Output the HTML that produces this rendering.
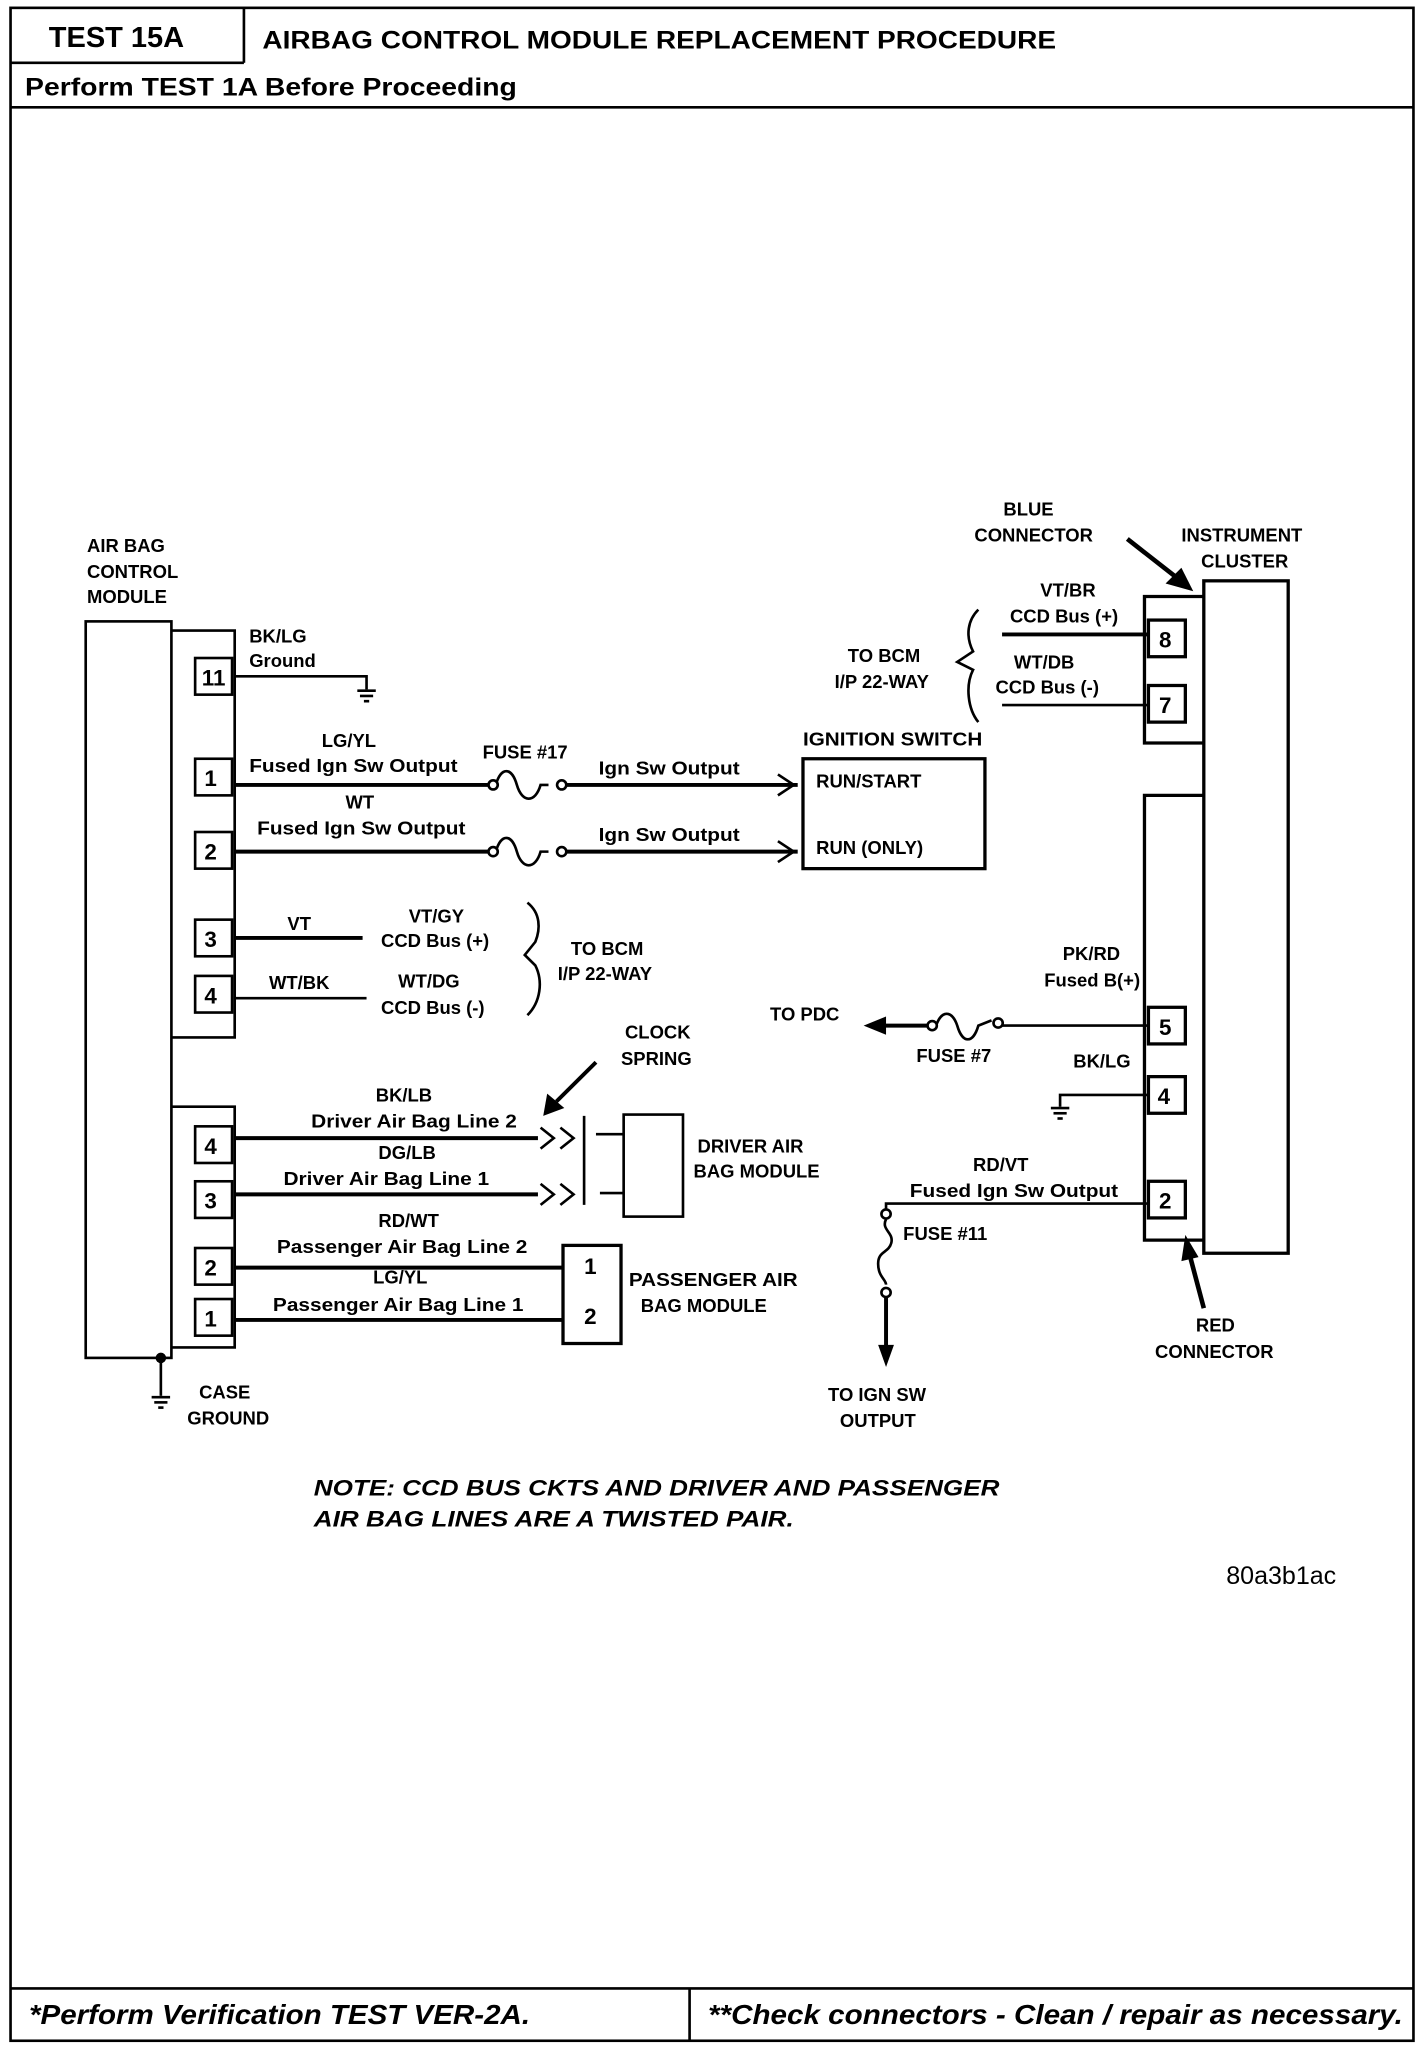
<!DOCTYPE html>
<html><head><meta charset="utf-8"><style>
html,body{margin:0;padding:0;background:#fff;}
svg{display:block;}
text{font-family:"Liberation Sans",sans-serif;font-weight:bold;fill:#000;}
.s{font-size:14px;}
</style></head><body>
<svg width="1424" height="2046" viewBox="0 0 1080 1564" preserveAspectRatio="none" xmlns="http://www.w3.org/2000/svg">
<g fill="none" stroke="#000" stroke-width="2">
<rect x="8" y="6" width="1064" height="1554"/>
<line x1="185" y1="6" x2="185" y2="48"/>
<line x1="8" y1="48" x2="185" y2="48"/>
<line x1="8" y1="82" x2="1072" y2="82"/>
<line x1="8" y1="1520" x2="1072" y2="1520"/>
<line x1="523" y1="1520" x2="523" y2="1560"/>
</g>
<text x="37" y="36" style="font-size:22px">TEST 15A</text>
<text x="199" y="37" style="font-size:19px" textLength="602" lengthAdjust="spacingAndGlyphs">AIRBAG CONTROL MODULE REPLACEMENT PROCEDURE</text>
<text x="19" y="73" style="font-size:19px" textLength="373" lengthAdjust="spacingAndGlyphs">Perform TEST 1A Before Proceeding</text>
<text x="22" y="1547" style="font-size:21px;font-style:italic" textLength="380" lengthAdjust="spacingAndGlyphs">*Perform Verification TEST VER-2A.</text>
<text x="537" y="1547" style="font-size:21px;font-style:italic" textLength="527" lengthAdjust="spacingAndGlyphs">**Check connectors - Clean / repair as necessary.</text>

<g fill="none" stroke="#000" stroke-width="2">
<rect x="65" y="475" width="65" height="563"/>
<polyline points="130,482 178,482 178,793 130,793"/>
<polyline points="130,846 178,846 178,1030 130,1030"/>
<rect x="148" y="503" width="28" height="28"/>
<rect x="148" y="580" width="28" height="28"/>
<rect x="148" y="636" width="28" height="28"/>
<rect x="148" y="703" width="28" height="28"/>
<rect x="148" y="746" width="28" height="28"/>
<rect x="148" y="861" width="28" height="28"/>
<rect x="148" y="903" width="28" height="28"/>
<rect x="148" y="954" width="28" height="28"/>
<rect x="148" y="993" width="28" height="28"/>
</g>
<g style="font-size:17px">
<text x="153" y="524">11</text>
<text x="155" y="601">1</text>
<text x="155" y="657">2</text>
<text x="155" y="724">3</text>
<text x="155" y="767">4</text>
<text x="155" y="882">4</text>
<text x="155" y="924">3</text>
<text x="155" y="975">2</text>
<text x="155" y="1014">1</text>
</g>
<text x="66" y="422" class="s">AIR BAG</text>
<text x="66" y="442" class="s">CONTROL</text>
<text x="66" y="461" class="s">MODULE</text>

<g fill="none" stroke="#000" stroke-width="3">
<polyline points="178,517 278,517 278,527" stroke-width="2"/>
<line x1="271" y1="528" x2="285" y2="528" stroke-width="2"/>
<line x1="273" y1="532" x2="283" y2="532" stroke-width="2"/>
<line x1="276" y1="536" x2="280" y2="536" stroke-width="2"/>
<line x1="178" y1="600" x2="370" y2="600"/>
<line x1="430" y1="600" x2="605" y2="600"/>
<path d="M376,600 c4,-14 12,-14 16,0 c4,14 14,14 18,0 l6,0" stroke-width="2"/>
<line x1="178" y1="651" x2="370" y2="651"/>
<line x1="430" y1="651" x2="605" y2="651"/>
<path d="M376,651 c4,-14 12,-14 16,0 c4,14 14,14 18,0 l6,0" stroke-width="2"/>
</g>
<g fill="#fff" stroke="#000" stroke-width="2">
<circle cx="374" cy="600" r="3.5"/><circle cx="426" cy="600" r="3.5"/>
<circle cx="374" cy="651" r="3.5"/><circle cx="426" cy="651" r="3.5"/>
</g>
<g fill="none" stroke="#000" stroke-width="2">
<polyline points="590,592 602,600 590,608"/>
<polyline points="590,643 602,651 590,659"/>
<rect x="609" y="580" width="138" height="84" stroke-width="2.5"/>
<line x1="178" y1="717" x2="275" y2="717" stroke-width="3"/>
<line x1="178" y1="763" x2="278" y2="763" stroke-width="2"/>
<path d="M400,690 c10,8 10,20 6,30 l-8,10 8,8 c6,12 4,28 -6,38"/>
<line x1="178" y1="870" x2="408" y2="870" stroke-width="3"/>
<line x1="178" y1="913" x2="408" y2="913" stroke-width="3"/>
<polyline points="410,862 420,870 410,878"/><polyline points="425,862 435,870 425,878"/>
<polyline points="410,905 420,913 410,921"/><polyline points="425,905 435,913 425,921"/>
<line x1="443" y1="853" x2="443" y2="921"/>
<line x1="452" y1="867" x2="473" y2="867"/>
<line x1="455" y1="912" x2="473" y2="912"/>
<rect x="473" y="852" width="45" height="78"/>
<line x1="178" y1="969" x2="427" y2="969" stroke-width="3"/>
<line x1="178" y1="1009" x2="427" y2="1009" stroke-width="3"/>
<rect x="427" y="952" width="44" height="75" stroke-width="2.5"/>
<line x1="122" y1="1038" x2="122" y2="1067"/>
<line x1="115" y1="1068" x2="129" y2="1068"/>
<line x1="117" y1="1072" x2="127" y2="1072"/>
<line x1="120" y1="1076" x2="124" y2="1076"/>
<line x1="452" y1="812" x2="422" y2="842" stroke-width="3"/>
</g>
<circle cx="122" cy="1038" r="4" fill="#000"/>
<polygon points="412,853 415,836 428,847" fill="#000"/>

<g class="s">
<text x="189" y="491">BK/LG</text>
<text x="189" y="510">Ground</text>
<text x="244" y="571">LG/YL</text>
<text x="189" y="590" textLength="158" lengthAdjust="spacingAndGlyphs">Fused Ign Sw Output</text>
<text x="366" y="580">FUSE #17</text>
<text x="454" y="592" textLength="107" lengthAdjust="spacingAndGlyphs">Ign Sw Output</text>
<text x="262" y="618">WT</text>
<text x="195" y="638" textLength="158" lengthAdjust="spacingAndGlyphs">Fused Ign Sw Output</text>
<text x="454" y="643" textLength="107" lengthAdjust="spacingAndGlyphs">Ign Sw Output</text>
<text x="609" y="570" textLength="136" lengthAdjust="spacingAndGlyphs">IGNITION SWITCH</text>
<text x="619" y="602">RUN/START</text>
<text x="619" y="653">RUN (ONLY)</text>
<text x="218" y="711">VT</text>
<text x="204" y="756">WT/BK</text>
<text x="310" y="705">VT/GY</text>
<text x="289" y="724">CCD Bus (+)</text>
<text x="302" y="755">WT/DG</text>
<text x="289" y="775">CCD Bus (-)</text>
<text x="433" y="730">TO BCM</text>
<text x="423" y="749">I/P 22-WAY</text>
<text x="474" y="794">CLOCK</text>
<text x="471" y="814">SPRING</text>
<text x="285" y="842">BK/LB</text>
<text x="236" y="862" textLength="156" lengthAdjust="spacingAndGlyphs">Driver Air Bag Line 2</text>
<text x="287" y="886">DG/LB</text>
<text x="215" y="906" textLength="156" lengthAdjust="spacingAndGlyphs">Driver Air Bag Line 1</text>
<text x="529" y="881">DRIVER AIR</text>
<text x="526" y="900">BAG MODULE</text>
<text x="287" y="938">RD/WT</text>
<text x="210" y="958" textLength="190" lengthAdjust="spacingAndGlyphs">Passenger Air Bag Line 2</text>
<text x="283" y="981">LG/YL</text>
<text x="207" y="1002" textLength="190" lengthAdjust="spacingAndGlyphs">Passenger Air Bag Line 1</text>
<text x="477" y="983" textLength="128" lengthAdjust="spacingAndGlyphs">PASSENGER AIR</text>
<text x="486" y="1003">BAG MODULE</text>
<text x="151" y="1069">CASE</text>
<text x="142" y="1089">GROUND</text>
</g>
<text x="443" y="974" style="font-size:17px">1</text>
<text x="443" y="1012" style="font-size:17px">2</text>

<g fill="none" stroke="#000" stroke-width="2.5">
<rect x="913" y="444" width="64" height="514"/>
<polyline points="913,456 868,456 868,568 913,568"/>
<polyline points="913,608 868,608 868,948 913,948"/>
<rect x="871" y="474" width="28" height="28"/>
<rect x="871" y="524" width="28" height="28"/>
<rect x="871" y="770" width="28" height="28"/>
<rect x="871" y="823" width="28" height="28"/>
<rect x="871" y="903" width="28" height="28"/>
<line x1="760" y1="485" x2="871" y2="485" stroke-width="3"/>
<line x1="760" y1="539" x2="871" y2="539" stroke-width="2"/>
<path d="M742,466 c-8,8 -10,20 -4,32 l-12,8 12,6 c-6,12 -4,30 4,40" stroke-width="2"/>
<line x1="760" y1="784" x2="871" y2="784" stroke-width="2"/>
<line x1="660" y1="784" x2="704" y2="784" stroke-width="3"/>
<path d="M710,784 c4,-12 12,-12 16,0 c4,14 12,14 16,0 l10,-4" stroke-width="2"/>
<polyline points="871,837 804,837 804,846" stroke-width="2"/>
<line x1="797" y1="847" x2="811" y2="847" stroke-width="2"/>
<line x1="799" y1="851" x2="809" y2="851" stroke-width="2"/>
<line x1="802" y1="855" x2="806" y2="855" stroke-width="2"/>
<polyline points="871,920 672,920 672,925" stroke-width="2"/>
<path d="M672,932 c-4,8 6,10 4,18 c-2,8 -10,6 -10,16 c0,10 6,12 6,16" stroke-width="2"/>
<line x1="672" y1="992" x2="672" y2="1030" stroke-width="3"/>
<line x1="855" y1="412" x2="893" y2="442" stroke-width="3.5"/>
<line x1="913" y1="1000" x2="903" y2="962" stroke-width="3.5"/>
</g>
<polygon points="905,452 884,446 896,434" fill="#000"/>
<polygon points="899,944 896,964 909,961" fill="#000"/>
<polygon points="655,784 672,777 672,791" fill="#000"/>
<polygon points="672,1045 666,1028 678,1028" fill="#000"/>
<g fill="#fff" stroke="#000" stroke-width="2">
<circle cx="707" cy="784" r="3.5"/><circle cx="757" cy="782" r="3.5"/>
<circle cx="672" cy="928" r="3.5"/><circle cx="672" cy="988" r="3.5"/>
</g>
<g style="font-size:17px">
<text x="879" y="495">8</text>
<text x="879" y="545">7</text>
<text x="879" y="791">5</text>
<text x="878" y="844">4</text>
<text x="879" y="924">2</text>
</g>
<g class="s">
<text x="761" y="394">BLUE</text>
<text x="739" y="414">CONNECTOR</text>
<text x="896" y="414">INSTRUMENT</text>
<text x="911" y="434">CLUSTER</text>
<text x="789" y="456">VT/BR</text>
<text x="766" y="476">CCD Bus (+)</text>
<text x="769" y="511">WT/DB</text>
<text x="755" y="530">CCD Bus (-)</text>
<text x="643" y="506">TO BCM</text>
<text x="633" y="526">I/P 22-WAY</text>
<text x="806" y="734">PK/RD</text>
<text x="792" y="754">Fused B(+)</text>
<text x="584" y="780">TO PDC</text>
<text x="695" y="812">FUSE #7</text>
<text x="814" y="816">BK/LG</text>
<text x="738" y="895">RD/VT</text>
<text x="690" y="915" textLength="158" lengthAdjust="spacingAndGlyphs">Fused Ign Sw Output</text>
<text x="685" y="948">FUSE #11</text>
<text x="907" y="1018">RED</text>
<text x="876" y="1038">CONNECTOR</text>
<text x="628" y="1071">TO IGN SW</text>
<text x="637" y="1091">OUTPUT</text>
</g>
<text x="238" y="1143" style="font-size:17px;font-style:italic" textLength="520" lengthAdjust="spacingAndGlyphs">NOTE: CCD BUS CKTS AND DRIVER AND PASSENGER</text>
<text x="238" y="1167" style="font-size:17px;font-style:italic" textLength="364" lengthAdjust="spacingAndGlyphs">AIR BAG LINES ARE A TWISTED PAIR.</text>
<text x="930" y="1211" style="font-size:19px;font-weight:normal">80a3b1ac</text>
</svg>
</body></html>
